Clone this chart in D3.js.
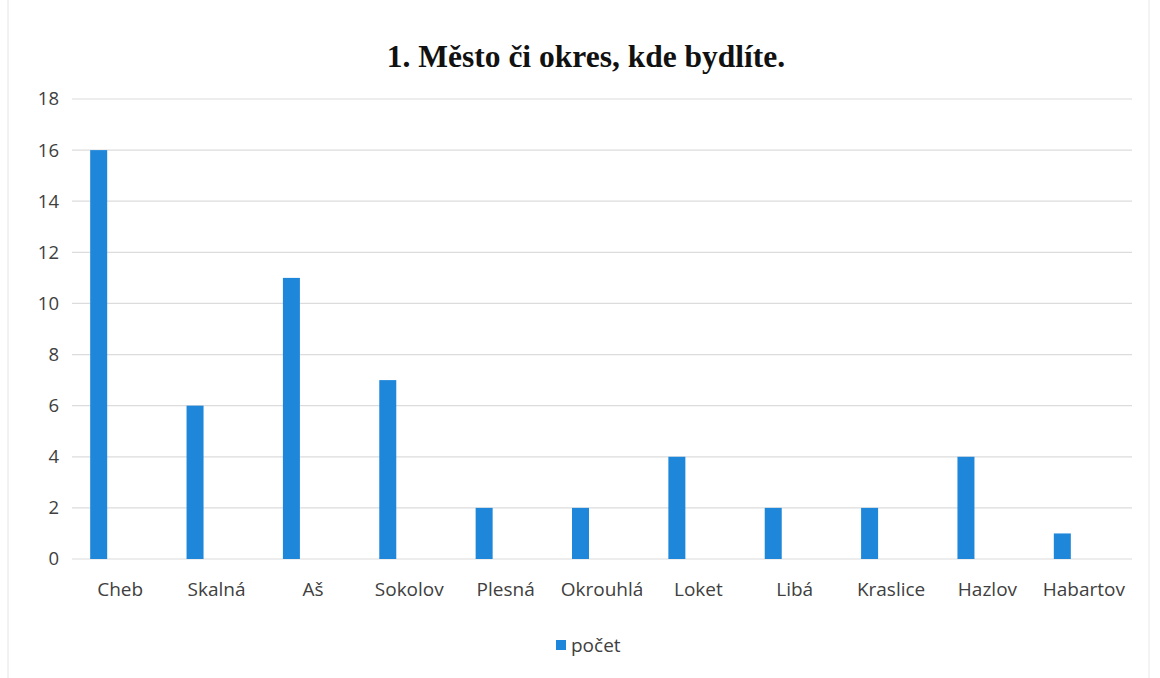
<!DOCTYPE html>
<html>
<head>
<meta charset="utf-8">
<script src="https://cdn.jsdelivr.net/npm/d3@7"></script>
<style>
  body { margin: 0; background: #fff; }
  .tick text { font-family: "Open Sans", sans-serif; fill: #404040; }
</style>
</head>
<body>
<div id="chart-area"></div>
<script>
var categories = ['Cheb', 'Skalná', 'Aš', 'Sokolov', 'Plesná', 'Okrouhlá', 'Loket', 'Libá', 'Kraslice', 'Hazlov', 'Habartov'];
var pocet = [16, 6, 11, 7, 2, 2, 4, 2, 2, 4, 1];
var yTicks = [0, 2, 4, 6, 8, 10, 12, 14, 16, 18];

var W = 1160, H = 678;
var margin = { top: 99, right: 28, bottom: 119, left: 72 };
var width = W - margin.left - margin.right;
var height = H - margin.top - margin.bottom;

var svg = d3.select('#chart-area')
    .append('svg')
        .attr('width', W)
        .attr('height', H);

// scan edges
svg.append('line').attr('x1', 8).attr('x2', 8).attr('y1', 0).attr('y2', H)
    .attr('stroke', '#e4e4e4').attr('stroke-width', 1);
svg.append('line').attr('x1', 1149).attr('x2', 1149).attr('y1', 0).attr('y2', H)
    .attr('stroke', '#e8e8e8').attr('stroke-width', 1);

svg.append('text')
    .attr('x', 586)
    .attr('y', 67)
    .attr('text-anchor', 'middle')
    .attr('font-family', '"Liberation Serif", "Times New Roman", serif')
    .attr('font-weight', 'bold')
    .attr('font-size', '31.5px')
    .attr('fill', '#111')
    .text('1. Město či okres, kde bydlíte.');

var g = svg.append('g')
    .attr('transform', 'translate(' + margin.left + ',' + margin.top + ')');

var x = d3.scaleBand()
    .domain(categories)
    .range([0, width]);

var y = d3.scaleLinear()
    .domain([0, 18])
    .range([height, 0]);

// gridlines
g.append('g')
    .attr('class', 'grid')
    .selectAll('line').data(yTicks)
    .enter().append('line')
    .attr('x1', 0)
    .attr('x2', width)
    .attr('y1', (d) => { return y(d) })
    .attr('y2', (d) => { return y(d) })
    .attr('stroke', '#dcdcdc')
    .attr('stroke-width', 1.2);

// Y axis
var yAxisCall = d3.axisLeft(y).tickValues(yTicks).tickSize(0).tickPadding(13);
var yAxis = g.append('g').attr('class', 'left axis').call(yAxisCall);
yAxis.select('.domain').remove();
yAxis.selectAll('text').attr('font-size', '18.5px');

// X axis
var xAxisCall = d3.axisBottom(x).tickSize(0).tickPadding(24);
var xAxis = g.append('g')
    .attr('class', 'bottom axis')
    .attr('transform', 'translate(0,' + height + ')')
    .call(xAxisCall);
xAxis.select('.domain').remove();
xAxis.selectAll('text').attr('font-size', '19px');

// bars (offset left in band as in source)
var barW = 17;
g.selectAll('rect.bar').data(pocet)
    .enter().append('rect')
    .attr('class', 'bar')
    .attr('x', (d, i) => { return x(categories[i]) + x.bandwidth() / 2 - 21.5 - barW / 2 })
    .attr('y', (d) => { return y(d) })
    .attr('width', barW)
    .attr('height', (d) => { return height - y(d) })
    .attr('fill', '#1f87da');

// legend
var legend = svg.append('g').attr('transform', 'translate(556,640)');
legend.append('rect')
    .attr('width', 10).attr('height', 10)
    .attr('fill', '#1f87da');
legend.append('text')
    .attr('x', 15)
    .attr('y', 12)
    .attr('font-family', '"Open Sans", sans-serif')
    .attr('font-size', '19px')
    .attr('fill', '#404040')
    .text('počet');
</script>
</body>
</html>
